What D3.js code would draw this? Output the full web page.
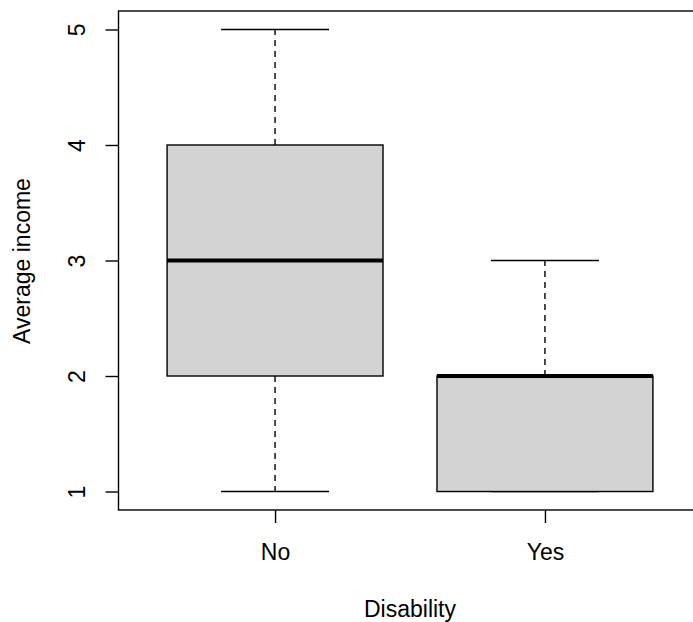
<!DOCTYPE html>
<html>
<head>
<meta charset="utf-8">
<script src="https://cdn.jsdelivr.net/npm/d3@7"></script>
<style>
  html, body { margin: 0; padding: 0; background: #fff; }
  svg text { font-family: "Liberation Sans", Arial, sans-serif; fill: #000; }
</style>
</head>
<body>
<svg id="chart" width="693" height="622"></svg>
<script>
// Groups along the x axis
const categories = ["No", "Yes"];
// Five-number summaries per group: min, lower quartile, median, upper quartile, max
const minValues    = [1, 1];
const q1Values     = [2, 1];
const medianValues = [3, 2];
const q3Values     = [4, 2];
const maxValues    = [5, 3];
// Axis ticks and titles
const yTicks = [1, 2, 3, 4, 5];
const xTitle = "Disability";
const yTitle = "Average income";

const rows = categories.map((c, i) => ({
  name: c, pos: i + 1,
  min: minValues[i], q1: q1Values[i], med: medianValues[i], q3: q3Values[i], max: maxValues[i]
}));

const svg = d3.select("#chart");
const plotLeft = 118.5, plotRight = 701.5, plotTop = 11, plotBottom = 510;
const fontSize = 23;

const x = d3.scaleLinear().domain([0.42, 2.58]).range([plotLeft, plotRight]);
const y = d3.scaleLinear().domain([0.84, 5.16]).range([plotBottom, plotTop]);

const boxHalf = 0.4, stapleHalf = 0.2;

const g = svg.append("g");

// Whiskers (dashed) from quartiles to extremes, with staples at the ends
rows.forEach(d => {
  if (d.max > d.q3) {
    g.append("line")
      .attr("x1", x(d.pos)).attr("x2", x(d.pos))
      .attr("y1", y(d.q3)).attr("y2", y(d.max))
      .attr("stroke", "#000").attr("stroke-width", 1.4)
      .attr("stroke-dasharray", "6,5");
  }
  if (d.min < d.q1) {
    g.append("line")
      .attr("x1", x(d.pos)).attr("x2", x(d.pos))
      .attr("y1", y(d.q1)).attr("y2", y(d.min))
      .attr("stroke", "#000").attr("stroke-width", 1.4)
      .attr("stroke-dasharray", "6,5");
  }
  [d.min, d.max].forEach(v => {
    g.append("line")
      .attr("x1", x(d.pos - stapleHalf)).attr("x2", x(d.pos + stapleHalf))
      .attr("y1", y(v)).attr("y2", y(v))
      .attr("stroke", "#000").attr("stroke-width", 1.4);
  });
});

// Boxes
g.selectAll("rect.box").data(rows).join("rect")
  .attr("class", "box")
  .attr("x", d => x(d.pos - boxHalf))
  .attr("width", d => x(d.pos + boxHalf) - x(d.pos - boxHalf))
  .attr("y", d => y(d.q3))
  .attr("height", d => y(d.q1) - y(d.q3))
  .attr("fill", "#d3d3d3")
  .attr("stroke", "#000").attr("stroke-width", 1.4);

// Medians
g.selectAll("line.med").data(rows).join("line")
  .attr("class", "med")
  .attr("x1", d => x(d.pos - boxHalf)).attr("x2", d => x(d.pos + boxHalf))
  .attr("y1", d => y(d.med)).attr("y2", d => y(d.med))
  .attr("stroke", "#000").attr("stroke-width", 4.2);

// Plot frame
svg.append("rect")
  .attr("x", plotLeft).attr("y", plotTop)
  .attr("width", plotRight - plotLeft).attr("height", plotBottom - plotTop)
  .attr("fill", "none").attr("stroke", "#000").attr("stroke-width", 1.4);

// Y axis
const yAxis = svg.append("g")
  .attr("transform", `translate(${plotLeft},0)`)
  .call(d3.axisLeft(y).tickValues(yTicks).tickSize(13).tickSizeOuter(0).tickFormat(d3.format("d")));
yAxis.select(".domain").remove();
yAxis.selectAll(".tick line").attr("stroke", "#000").attr("stroke-width", 1.4);
yAxis.selectAll(".tick text")
  .attr("x", null).attr("dy", null)
  .attr("transform", "translate(-33.5,0) rotate(-90)")
  .attr("text-anchor", "middle")
  .attr("font-size", fontSize)
  .attr("font-family", null);

// X axis
const xAxis = svg.append("g")
  .attr("transform", `translate(0,${plotBottom})`)
  .call(d3.axisBottom(x).tickValues(rows.map(d => d.pos)).tickSize(13).tickSizeOuter(0)
    .tickFormat((v, i) => categories[i]));
xAxis.select(".domain").remove();
xAxis.selectAll(".tick line").attr("stroke", "#000").attr("stroke-width", 1.4);
xAxis.selectAll(".tick text")
  .attr("y", 50).attr("dy", null)
  .attr("font-size", fontSize)
  .attr("font-family", null);

// Axis titles
svg.append("text")
  .attr("x", (plotLeft + plotRight) / 2).attr("y", 617)
  .attr("text-anchor", "middle").attr("font-size", fontSize)
  .text(xTitle);
svg.append("text")
  .attr("transform", `translate(29.5,261) rotate(-90)`)
  .attr("text-anchor", "middle").attr("font-size", fontSize)
  .text(yTitle);
</script>
</body>
</html>
